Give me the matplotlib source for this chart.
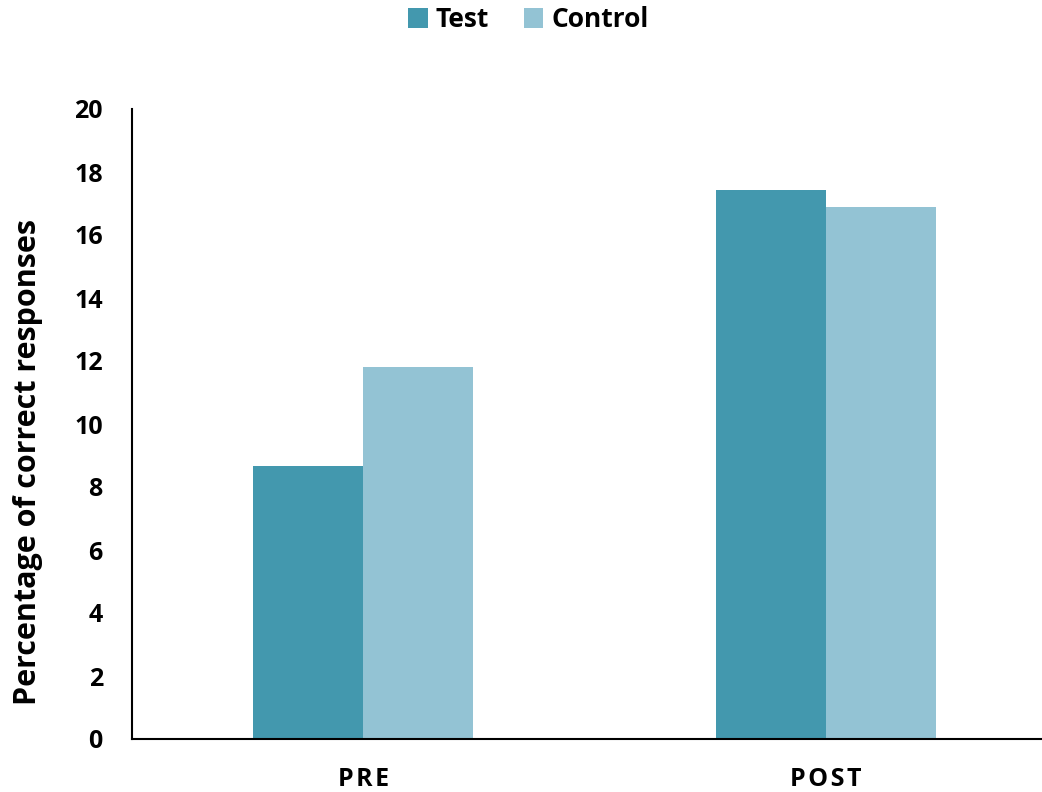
import matplotlib
matplotlib.use("Agg")
import matplotlib.pyplot as plt
import numpy as np

categories = ["PRE", "POST"]
series_names = ["Test", "Control"]
test_values = [8.67, 17.43]
control_values = [11.8, 16.88]
y_ticks = [0, 2, 4, 6, 8, 10, 12, 14, 16, 18, 20]

test_color = "#4398AE"
control_color = "#93C3D4"

plt.rcParams["font.family"] = ["Open Sans", "DejaVu Sans"]
plt.rcParams["font.weight"] = "bold"

fig = plt.figure(figsize=(10.42, 7.92), dpi=100)
ax = fig.add_axes([132 / 1042, 1 - 739 / 792, (1042 - 132) / 1042, (739 - 109) / 792])

x = np.arange(len(categories))
w = 0.2376
ax.bar(x - w / 2, test_values, width=w, color=test_color, label=series_names[0])
ax.bar(x + w / 2, control_values, width=w, color=control_color, label=series_names[1])

ax.set_xlim(-0.499, 1.466)
ax.set_ylim(0, 20)
ax.set_yticks(y_ticks)
ax.set_yticklabels([str(t) for t in y_ticks], fontsize=18, fontweight="bold")
ax.set_xticks(x)
# letter-spaced category labels
spaced = ["\u200a".join(c) for c in categories]
ax.set_xticklabels(spaced, fontsize=18, fontweight="bold")
ax.tick_params(axis="both", length=0)
ax.tick_params(axis="y", pad=21)
ax.tick_params(axis="x", pad=20)

for s in ["top", "right"]:
    ax.spines[s].set_visible(False)
for s in ["left", "bottom"]:
    ax.spines[s].set_linewidth(1.5)
    ax.spines[s].set_color("black")

ax.set_ylabel("Percentage of correct responses", fontsize=22, fontweight="bold")
ax.yaxis.set_label_coords(-0.098, 0.44)

fig.legend(loc="upper center", bbox_to_anchor=(0.507, 1.022), ncol=2, frameon=False,
           handlelength=0.75, handleheight=0.75, handletextpad=0.3,
           columnspacing=1.3, prop={"weight": "bold", "size": 19})

fig.savefig("out.png", dpi=100)
